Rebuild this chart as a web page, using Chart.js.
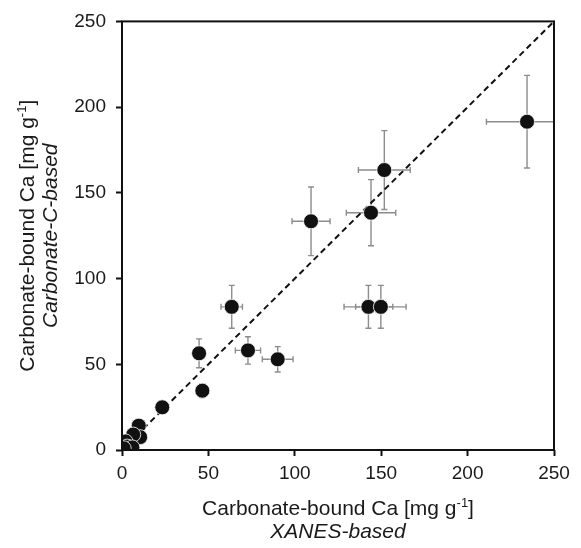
<!DOCTYPE html>
<html>
<head>
<meta charset="utf-8">
<script src="https://cdn.jsdelivr.net/npm/chart.js@4/dist/chart.umd.min.js"></script>
<style>
  html, body { margin: 0; padding: 0; background: #fff; }
  #wrap { width: 581px; height: 548px; position: relative; }
</style>
</head>
<body>
<div id="wrap"><canvas id="c"></canvas></div>
<script>
// Carbonate-bound Ca estimated two ways (mg g^-1)
const xanesCa = [234.4, 151.8, 144.1, 109.4, 63.5, 72.9, 90.1, 44.6, 46.5, 23.3, 9.7, 142.6, 149.8, 10.5, 6.5, 2.0, 3.0, 6.0, 1.0];
const carbonateCCa = [191.5, 163.3, 138.4, 133.4, 83.5, 58.1, 52.9, 56.4, 34.6, 24.9, 14.2, 83.5, 83.5, 7.5, 9.0, 5.0, 2.0, 1.5, 1.0];
const xanesErr = [23.5, 15.0, 14.3, 11.0, 6.2, 7.3, 8.9, 0, 0, 0, 0, 14.1, 14.6, 0, 0, 0, 0, 0, 0];
const carbonateCErr = [27.0, 23.0, 19.3, 20.0, 12.5, 8.0, 7.4, 8.4, 4.0, 0, 0, 12.5, 12.5, 0, 0, 0, 0, 0, 0];
const oneToOne = [0, 250];
const tickValues = [0, 50, 100, 150, 200, 250];

const FONT = "'Liberation Sans', Arial, sans-serif";
const TEXT_COLOR = '#1a1a1a';
const TICK_SIZE = 19;
const TITLE_SIZE = 21;

const points = xanesCa.map((x, i) => ({ x: x, y: carbonateCCa[i] }));
const linePts = oneToOne.map(v => ({ x: v, y: v }));

// Gray error bars with small caps, drawn beneath the markers
const errorBars = {
  id: 'errorBars',
  beforeDatasetsDraw(chart) {
    const { ctx, scales: { x, y } } = chart;
    const cap = 3;
    ctx.save();
    ctx.strokeStyle = '#8c8c8c';
    ctx.lineWidth = 1.4;
    xanesCa.forEach((xv, i) => {
      const yv = carbonateCCa[i];
      const px = x.getPixelForValue(xv), py = y.getPixelForValue(yv);
      const ex = xanesErr[i], ey = carbonateCErr[i];
      ctx.beginPath();
      if (ex > 0) {
        const l = x.getPixelForValue(xv - ex), r = x.getPixelForValue(Math.min(xv + ex, 250));
        ctx.moveTo(l, py); ctx.lineTo(r, py);
        ctx.moveTo(l, py - cap); ctx.lineTo(l, py + cap);
        ctx.moveTo(r, py - cap); ctx.lineTo(r, py + cap);
      }
      if (ey > 0) {
        const t = y.getPixelForValue(yv + ey), b = y.getPixelForValue(yv - ey);
        ctx.moveTo(px, t); ctx.lineTo(px, b);
        ctx.moveTo(px - cap, t); ctx.lineTo(px + cap, t);
        ctx.moveTo(px - cap, b); ctx.lineTo(px + cap, b);
      }
      ctx.stroke();
    });
    ctx.restore();
  }
};

// Two-line axis title: unit with superscript, then the method in italics
function drawTitle(ctx, line1, sup, tail, line2, size, gap) {
  const supSize = Math.round(size * 0.62);
  ctx.font = size + 'px ' + FONT;
  const w1 = ctx.measureText(line1).width;
  const wt = ctx.measureText(tail).width;
  ctx.font = supSize + 'px ' + FONT;
  const ws = ctx.measureText(sup).width;
  const x0 = -(w1 + ws + wt) / 2;
  ctx.textAlign = 'left';
  ctx.textBaseline = 'alphabetic';
  ctx.font = size + 'px ' + FONT;
  ctx.fillText(line1, x0, 0);
  ctx.fillText(tail, x0 + w1 + ws, 0);
  ctx.font = supSize + 'px ' + FONT;
  ctx.fillText(sup, x0 + w1, -size * 0.38);
  ctx.font = 'italic ' + size + 'px ' + FONT;
  ctx.textAlign = 'center';
  ctx.fillText(line2, 0, gap);
}

// Frame around the plot area and the axis titles
const frameAndTitles = {
  id: 'frameAndTitles',
  afterDraw(chart) {
    const { ctx, chartArea: a } = chart;
    ctx.save();
    ctx.strokeStyle = '#111';
    ctx.lineWidth = 2;
    ctx.strokeRect(a.left, a.top, a.right - a.left, a.bottom - a.top);
    ctx.fillStyle = TEXT_COLOR;
    const cx = (a.left + a.right) / 2;
    const cy = (a.top + a.bottom) / 2;
    ctx.save();
    ctx.translate(cx, 515);
    drawTitle(ctx, 'Carbonate-bound Ca [mg g', '-1', ']', 'XANES-based', TITLE_SIZE, 23);
    ctx.restore();
    ctx.save();
    ctx.translate(34, cy);
    ctx.rotate(-Math.PI / 2);
    drawTitle(ctx, 'Carbonate-bound Ca [mg g', '-1', ']', 'Carbonate-C-based', TITLE_SIZE, 23);
    ctx.restore();
    ctx.restore();
  }
};

const axisCommon = {
  type: 'linear',
  min: 0,
  max: 250,
  afterBuildTicks(scale) { scale.ticks = tickValues.map(v => ({ value: v })); },
  grid: { display: true, drawOnChartArea: false, drawTicks: true, tickLength: 6, tickColor: '#111', tickWidth: 2 },
  border: { display: false },
  ticks: { color: TEXT_COLOR, font: { family: FONT, size: TICK_SIZE } }
};

new Chart(document.getElementById('c'), {
  type: 'scatter',
  data: {
    datasets: [
      {
        label: 'samples',
        data: points,
        order: 0,
        pointRadius: 7.5,
        pointHoverRadius: 7.5,
        backgroundColor: '#111',
        borderColor: '#ffffff',
        borderWidth: 0.8
      },
      {
        type: 'line',
        label: '1:1',
        data: linePts,
        order: 1,
        borderColor: '#111',
        borderWidth: 2,
        borderDash: [6, 4],
        pointRadius: 0,
        fill: false
      }
    ]
  },
  options: {
    responsive: true,
    maintainAspectRatio: false,
    animation: false,
    layout: { padding: { top: 18, right: 27, left: 0, bottom: 0 } },
    plugins: { legend: { display: false }, tooltip: { enabled: false } },
    scales: {
      x: Object.assign({}, axisCommon, {
        position: 'bottom',
        ticks: Object.assign({}, axisCommon.ticks, { padding: 6 }),
        afterFit(s) { s.height = 98; }
      }),
      y: Object.assign({}, axisCommon, {
        position: 'left',
        ticks: Object.assign({}, axisCommon.ticks, { padding: 10 }),
        afterFit(s) { s.width = 122; }
      })
    }
  },
  plugins: [errorBars, frameAndTitles]
});
</script>
</body>
</html>
